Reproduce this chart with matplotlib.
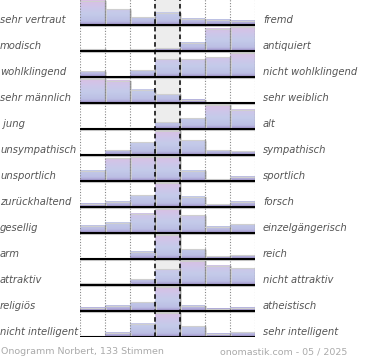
import numpy as np
import matplotlib
matplotlib.use("Agg")
import matplotlib.pyplot as plt
from matplotlib.colors import LinearSegmentedColormap

# Onogramm: word pairs, left and right end of each scale
left_labels = ["sehr vertraut", "modisch", "wohlklingend", "sehr männlich", " jung",
               "unsympathisch", "unsportlich", "zurückhaltend", "gesellig", "arm",
               "attraktiv", "religiös", "nicht intelligent"]
right_labels = ["fremd", "antiquiert", "nicht wohlklingend", "sehr weiblich", "alt",
                "sympathisch", "sportlich", "forsch", "einzelgängerisch", "reich",
                "nicht attraktiv", "atheistisch", "sehr intelligent"]

# relative share of votes per step (max of each row = 100)
scores = [
    [100, 64, 32, 51, 26, 22, 18],
    [8, 0, 7, 12, 34, 92, 100],
    [23, 0, 28, 73, 73, 81, 100],
    [100, 91, 54, 35, 13, 0, 0],
    [1, 0, 0, 28, 44, 100, 79],
    [3, 19, 52, 100, 60, 20, 16],
    [42, 93, 98, 100, 42, 8, 18],
    [14, 22, 48, 100, 43, 11, 21],
    [29, 43, 79, 100, 72, 25, 36],
    [0, 2, 30, 100, 40, 12, 15],
    [8, 8, 24, 65, 100, 80, 69],
    [14, 21, 35, 100, 21, 10, 14],
    [0, 18, 55, 100, 44, 14, 19],
]
footer_left = "Onogramm Norbert, 133 Stimmen"
footer_right = "onomastik.com - 05 / 2025"

n_rows = len(scores)
full = 0.935  # full bar height as part of a row

cmap = LinearSegmentedColormap.from_list("ono", [
    (0.0, "#9a8cc6"), (0.05, "#aaa0d4"), (0.15, "#bcbfe4"),
    (0.45, "#c4cbea"), (0.72, "#cec6e9"), (1.0, "#dbc0e4")])

fig = plt.figure(figsize=(3.7, 3.6), dpi=100)
ax = fig.add_axes([80 / 370, 23 / 360, 175 / 370, 338 / 360])

# neutral middle column
ax.axvspan(3, 4, color="#ededed", zorder=0)

for i, row in enumerate(scores):
    base = i + 1
    for j, v in enumerate(row):
        h = v / 100 * full
        if h <= 0:
            continue
        grad = np.linspace(0, v / 100, 60).reshape(-1, 1)
        ax.imshow(grad, cmap=cmap, vmin=0, vmax=1, origin="lower",
                  extent=[j, j + 1, base, base - h], aspect="auto",
                  interpolation="bilinear", zorder=1)
        ax.plot([j, j + 1], [base - h, base - h], color="#cfcfcf", lw=0.8, zorder=2)
        ax.plot([j + 1.04, j + 1.04], [base - h + 0.05, base], color="#dcdcdc", lw=1.2, zorder=1.5)
        ax.plot([j + 1, j + 1], [base - h, base], color="#9a9a9a", lw=0.9, zorder=2)
    ax.plot([0, 7.03], [base, base], color="black", lw=1.5, zorder=4, solid_capstyle="butt")
    ax.plot([0, 7.03], [base + 0.05, base + 0.05], color="#cccccc", lw=0.8, zorder=3)

for x in [0, 1, 2, 5, 6, 7]:
    ax.axvline(x, color="#888888", lw=0.8, ls=(0, (1, 1.5)), zorder=3)
for x in [3, 4]:
    ax.axvline(x, color="black", lw=1.1, ls=(0, (3, 2)), zorder=3)

ax.set_xlim(0, 7)
ax.set_ylim(n_rows, 0)
ax.axis("off")

px = 1 / 360
for i in range(n_rows):
    y = 1 - (25 + 26 * i - 5) * px
    fig.text(0.0, y, left_labels[i], fontsize=7.2, style="italic",
             color="#555555", ha="left", va="center")
    fig.text(263 / 370, y, right_labels[i], fontsize=7.2, style="italic",
             color="#555555", ha="left", va="center")

fig.text(1 / 370, 1 - 352 * px, footer_left, fontsize=6.8, color="#aaaaaa",
         ha="left", va="center")
fig.text(347 / 370, 1 - 352 * px, footer_right, fontsize=6.8, color="#aaaaaa",
         ha="right", va="center")

fig.savefig("out.png", dpi=100)
